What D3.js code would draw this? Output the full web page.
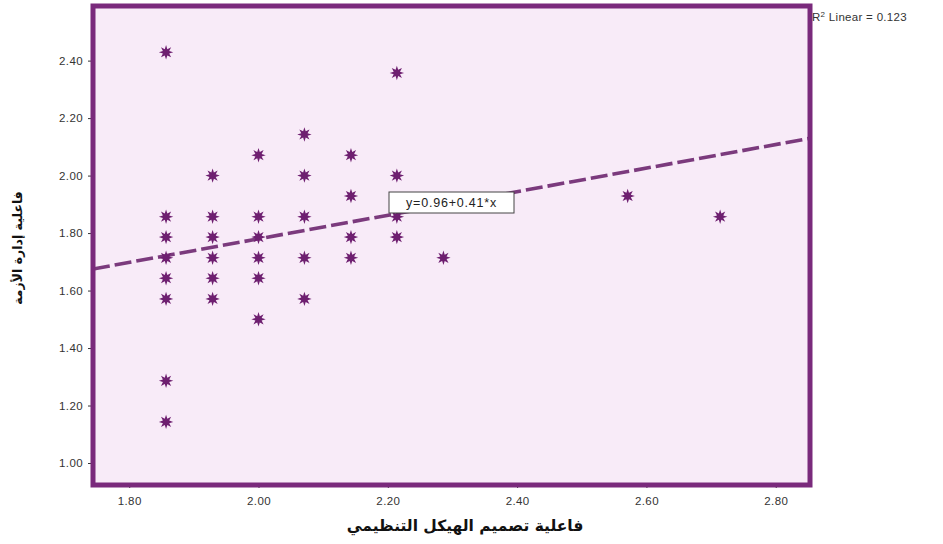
<!DOCTYPE html>
<html>
<head>
<meta charset="utf-8">
<script src="https://cdn.jsdelivr.net/npm/d3@7/dist/d3.min.js"></script>
<style>
  html, body { margin: 0; padding: 0; background: #ffffff; }
  svg { display: block; }
</style>
</head>
<body>
<svg id="chart" width="943" height="544"></svg>
<script>
// Scatter data: structure design effectiveness (x) vs crisis management effectiveness (y)
const xValues = [
  1.857, 1.857, 1.857, 1.857, 1.857, 1.857, 1.857, 1.857,
  1.929, 1.929, 1.929, 1.929, 1.929, 1.929,
  2.000, 2.000, 2.000, 2.000, 2.000, 2.000,
  2.071, 2.071, 2.071, 2.071, 2.071,
  2.143, 2.143, 2.143, 2.143,
  2.214, 2.214, 2.214, 2.214,
  2.286,
  2.571,
  2.714
];
const yValues = [
  2.429, 1.857, 1.786, 1.714, 1.643, 1.571, 1.286, 1.143,
  2.000, 1.857, 1.786, 1.714, 1.643, 1.571,
  2.071, 1.857, 1.786, 1.714, 1.643, 1.500,
  2.143, 2.000, 1.857, 1.714, 1.571,
  2.071, 1.929, 1.786, 1.714,
  2.357, 2.000, 1.857, 1.786,
  1.714,
  1.929,
  1.857
];

const xTicks = [1.80, 2.00, 2.20, 2.40, 2.60, 2.80];
const yTicks = [1.00, 1.20, 1.40, 1.60, 1.80, 2.00, 2.20, 2.40];

// Fit line: y = 0.96 + 0.41 * x, R² = 0.123
const fitIntercept = 0.96;
const fitSlope = 0.41;
const rSquared = 0.123;

const xTitle = "فاعلية تصميم الهيكل التنظيمي";
const yTitle = "فاعلية إدارة الأزمة";

const frame = { left: 93, top: 6, right: 810, bottom: 485 };
const purple = "#7a2a7c";
const markColor = "#6e1f70";

const svg = d3.select("#chart");

const x = d3.scaleLinear().domain([1.744, 2.853]).range([frame.left, frame.right]);
const y = d3.scaleLinear().domain([0.9235, 2.59]).range([frame.bottom, frame.top]);

// plot area background
svg.append("rect")
  .attr("x", frame.left).attr("y", frame.top)
  .attr("width", frame.right - frame.left)
  .attr("height", frame.bottom - frame.top)
  .attr("fill", "#f8ebf8");

// axes
const fmt = d3.format(".2f");
const xAxis = svg.append("g")
  .attr("transform", `translate(0,${frame.bottom + 2})`)
  .call(d3.axisBottom(x).tickValues(xTicks).tickFormat(fmt).tickSize(5).tickSizeOuter(0));
const yAxis = svg.append("g")
  .attr("transform", `translate(${frame.left - 2},0)`)
  .call(d3.axisLeft(y).tickValues(yTicks).tickFormat(fmt).tickSize(5).tickSizeOuter(0));

[xAxis, yAxis].forEach(g => {
  g.select(".domain").remove();
  g.selectAll(".tick line").attr("stroke", "#333").attr("stroke-width", 1);
  g.selectAll(".tick text")
    .attr("fill", "#333")
    .style("font-family", "Arial, 'Liberation Sans', sans-serif")
    .style("font-size", "11.5px")
    .style("letter-spacing", "0.4px");
});
xAxis.selectAll(".tick line").attr("transform", "translate(0,-4)");
xAxis.selectAll(".tick text").attr("dy", "0.9em");
yAxis.selectAll(".tick line").attr("transform", "translate(2,0)");

// clip for data marks
svg.append("clipPath").attr("id", "plotClip")
  .append("rect")
  .attr("x", frame.left).attr("y", frame.top)
  .attr("width", frame.right - frame.left)
  .attr("height", frame.bottom - frame.top);

const plot = svg.append("g").attr("clip-path", "url(#plotClip)");

// regression line
const [x0, x1] = x.domain();
plot.append("line")
  .attr("x1", x(x0)).attr("y1", y(fitIntercept + fitSlope * x0))
  .attr("x2", x(x1)).attr("y2", y(fitIntercept + fitSlope * x1))
  .attr("stroke", "#7b3a7d")
  .attr("stroke-width", 3.6)
  .attr("stroke-dasharray", "17,5");

// eight-pointed star markers
const starPath = (() => {
  const pts = [];
  const n = 8, rOut = 7.2, rIn = 3.4;
  for (let i = 0; i < n * 2; i++) {
    const r = i % 2 === 0 ? rOut : rIn;
    const a = (Math.PI / n) * i - Math.PI / 2;
    pts.push([r * Math.cos(a), r * Math.sin(a)]);
  }
  return "M" + pts.map(p => p[0].toFixed(2) + "," + p[1].toFixed(2)).join("L") + "Z";
})();

plot.selectAll("path.star")
  .data(xValues.map((v, i) => ({ x: v, y: yValues[i] })))
  .join("path")
  .attr("class", "star")
  .attr("d", starPath)
  .attr("transform", d => `translate(${x(d.x)},${y(d.y)})`)
  .attr("fill", markColor);

// equation label box
const eqText = `y=${fitIntercept.toFixed(2)}+${fitSlope.toFixed(2)}*x`;
const eqG = svg.append("g");
eqG.append("rect")
  .attr("x", 389).attr("y", 192).attr("width", 125).attr("height", 21)
  .attr("fill", "#ffffff").attr("stroke", "#444").attr("stroke-width", 1);
eqG.append("text")
  .attr("x", 451.5).attr("y", 207)
  .attr("text-anchor", "middle")
  .attr("fill", "#222")
  .style("font-family", "Arial, 'Liberation Sans', sans-serif")
  .style("font-size", "12.5px")
  .style("letter-spacing", "0.8px")
  .text(eqText);

// frame border
svg.append("rect")
  .attr("x", frame.left).attr("y", frame.top)
  .attr("width", frame.right - frame.left)
  .attr("height", frame.bottom - frame.top)
  .attr("fill", "none").attr("stroke", purple).attr("stroke-width", 5);

// R² annotation
const r2 = svg.append("text")
  .attr("x", 812).attr("y", 21)
  .attr("fill", "#333")
  .style("font-family", "Arial, 'Liberation Sans', sans-serif")
  .style("font-size", "11.5px")
  .style("letter-spacing", "0.3px");
r2.append("tspan").text("R");
r2.append("tspan").attr("dy", -4).style("font-size", "8px").text("2");
r2.append("tspan").attr("dy", 4).text(` Linear = ${rSquared.toFixed(3)}`);

// axis titles
svg.append("text")
  .attr("x", 465).attr("y", 531)
  .attr("text-anchor", "middle")
  .attr("fill", "#111")
  .style("font-family", "'DejaVu Sans', 'Noto Sans', sans-serif")
  .style("font-size", "15.5px")
  .style("font-weight", "bold")
  .text(xTitle);

svg.append("text")
  .attr("transform", "translate(22,248) rotate(-90)")
  .attr("text-anchor", "middle")
  .attr("fill", "#111")
  .style("font-family", "'DejaVu Sans', 'Noto Sans', sans-serif")
  .style("font-size", "12.5px")
  .style("font-weight", "bold")
  .text(yTitle);
</script>
</body>
</html>
